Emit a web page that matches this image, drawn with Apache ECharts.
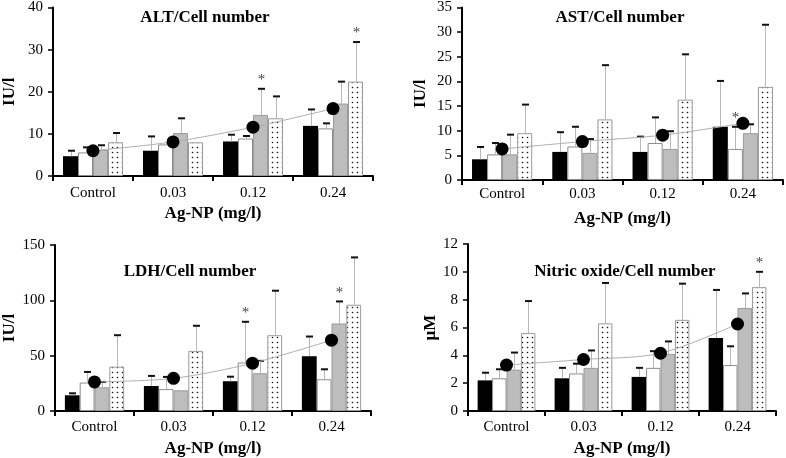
<!DOCTYPE html>
<html><head><meta charset="utf-8">
<script src="https://cdn.jsdelivr.net/npm/echarts@6/dist/echarts.min.js"></script>
<style>html,body{margin:0;padding:0;background:#fff}#c{width:786px;height:458px}</style>
</head><body><div id="c"></div><script>
const categories = ['Control', '0.03', '0.12', '0.24'];

// ALT / Cell number (IU/l)
const altBlack = [4.7, 6.0, 8.2, 11.9];
const altWhite = [5.6, 7.5, 8.9, 11.3];
const altGray = [6.2, 10.2, 14.5, 17.2];
const altDotted = [8.0, 8.0, 13.7, 22.4];
const altBlackErr = [6.0, 9.4, 9.8, 15.8];
const altWhiteErr = [6.8, null, 9.5, 12.5];
const altGrayErr = [7.3, 13.7, 20.7, 22.4];
const altDottedErr = [10.2, null, 18.9, 31.8];
const altDots = [6.0, 8.1, 11.6, 16.0];
const altStars = [[2, 2], [3, 3]];

// AST / Cell number (IU/l)
const astBlack = [4.2, 5.7, 5.7, 10.8];
const astWhite = [5.2, 6.8, 7.5, 6.3];
const astGray = [5.2, 5.5, 6.3, 9.5];
const astDotted = [9.5, 12.3, 16.3, 18.9];
const astBlackErr = [6.7, 9.7, 8.8, 20.1];
const astWhiteErr = [7.5, 10.8, 12.7, 10.8];
const astGrayErr = [9.2, 8.3, 9.9, 11.3];
const astDottedErr = [15.3, 23.3, 25.5, 31.5];
const astDots = [6.3, 7.8, 9.1, 11.5];
const astStars = [[3, 1]];

// LDH / Cell number (IU/l)
const ldhBlack = [14.2, 22.6, 26.9, 49.5];
const ldhWhite = [25.7, 19.8, 43.8, 28.7];
const ldhGray = [21.4, 18.7, 34.1, 79.1];
const ldhDotted = [40.1, 54.3, 68.5, 96.0];
const ldhBlackErr = [16.0, 31.7, 31.0, 67.3];
const ldhWhiteErr = [35.3, 30.8, 80.6, 37.7];
const ldhGrayErr = [26.3, null, 45.3, 99.0];
const ldhDottedErr = [68.5, 77.0, 108.7, 138.8];
const ldhDots = [26.3, 29.5, 43.2, 64.0];
const ldhStars = [[2, 1], [3, 2]];

// Nitric oxide / Cell number (µM)
const noBlack = [2.2, 2.35, 2.45, 5.25];
const noWhite = [2.35, 2.7, 3.1, 3.3];
const noGray = [2.97, 3.1, 4.1, 7.4];
const noDotted = [5.6, 6.3, 6.55, 8.9];
const noBlackErr = [2.75, 3.1, 3.1, 8.7];
const noWhiteErr = [3.0, 3.4, 4.3, 4.65];
const noGrayErr = [4.2, 4.35, 5.0, 8.45];
const noDottedErr = [7.9, 9.2, 9.15, 10.0];
const noDots = [3.3, 3.7, 4.15, 6.25];
const noStars = [[3, 3]];

const yTicksALT = {max: 40, interval: 10};
const yTicksAST = {max: 35, interval: 5};
const yTicksLDH = {max: 150, interval: 50};
const yTicksNO = {max: 12, interval: 2};

const SERIF = "'Liberation Serif','Times New Roman',serif";

function dotPattern() {
  const c = document.createElement('canvas');
  c.width = 5; c.height = 5;
  const g = c.getContext('2d');
  g.fillStyle = '#fff'; g.fillRect(0, 0, 5, 5);
  g.fillStyle = '#111';
  g.beginPath(); g.arc(2.5, 2.5, 0.8, 0, Math.PI * 2); g.fill();
  return c;
}
const pat = dotPattern();

const barStyles = [
  {color: '#000', borderColor: '#000', borderWidth: 0},
  {color: '#fff', borderColor: '#8c8c8c', borderWidth: 1},
  {color: '#bdbdbd', borderColor: '#9a9a9a', borderWidth: 1},
  {color: {image: pat, repeat: 'repeat'}, borderColor: '#9a9a9a', borderWidth: 1}
];

const panels = [
  {title: 'ALT/Cell number', yName: 'IU/l', y: yTicksALT,
   grid: {left: 50, top: 5, width: 323, height: 171}, titlePos: [205, 18],
   means: [altBlack, altWhite, altGray, altDotted],
   errs: [altBlackErr, altWhiteErr, altGrayErr, altDottedErr],
   dots: altDots, stars: altStars, yNameGap: 35, labelMargin: 10, nameGap: 29},
  {title: 'AST/Cell number', yName: 'IU/l', y: yTicksAST,
   grid: {left: 462, top: 5, width: 321, height: 175}, titlePos: [620, 18],
   means: [astBlack, astWhite, astGray, astDotted],
   errs: [astBlackErr, astWhiteErr, astGrayErr, astDottedErr],
   dots: astDots, stars: astStars, yNameGap: 33, labelMargin: 7, nameGap: 30},
  {title: 'LDH/Cell number', yName: 'IU/l', y: yTicksLDH,
   grid: {left: 53, top: 245, width: 318, height: 166}, titlePos: [190, 272],
   means: [ldhBlack, ldhWhite, ldhGray, ldhDotted],
   errs: [ldhBlackErr, ldhWhiteErr, ldhGrayErr, ldhDottedErr],
   dots: ldhDots, stars: ldhStars, yNameGap: 37, labelMargin: 9, nameGap: 29},
  {title: 'Nitric oxide/Cell number', yName: '\u00b5M', y: yTicksNO,
   grid: {left: 468, top: 244, width: 308, height: 167}, titlePos: [625, 272],
   means: [noBlack, noWhite, noGray, noDotted],
   errs: [noBlackErr, noWhiteErr, noGrayErr, noDottedErr],
   dots: noDots, stars: noStars, yNameGap: 29, labelMargin: 9, nameGap: 29}
];

const option = {
  animation: false,
  backgroundColor: '#fff',
  grid: [], xAxis: [], yAxis: [], series: [], graphic: []
};

panels.forEach((p, pi) => {
  option.grid.push(Object.assign({containLabel: false}, p.grid));
  option.xAxis.push({
    type: 'category', gridIndex: pi, data: categories,
    name: 'Ag-NP (mg/l)', nameLocation: 'middle', nameGap: p.nameGap,
    nameTextStyle: {fontFamily: SERIF, fontWeight: 'bold', fontSize: 17, color: '#000'},
    axisLine: {lineStyle: {color: '#000', width: 2}},
    axisTick: {show: true, length: 5, lineStyle: {color: '#000', width: 2}},
    axisLabel: {fontFamily: SERIF, fontSize: 15, color: '#000', margin: p.labelMargin},
    splitLine: {show: false}
  });
  option.yAxis.push({
    type: 'value', gridIndex: pi, min: 0, max: p.y.max, interval: p.y.interval,
    name: p.yName, nameLocation: 'middle', nameGap: p.yNameGap, nameRotate: 90,
    nameTextStyle: {fontFamily: SERIF, fontWeight: 'bold', fontSize: 17, color: '#000'},
    axisLine: {show: true, lineStyle: {color: '#000', width: 2}},
    axisTick: {show: true, length: 5, lineStyle: {color: '#000', width: 1.5}},
    axisLabel: {fontFamily: SERIF, fontSize: 15, color: '#000', margin: 10},
    splitLine: {show: false}
  });
  p.means.forEach((m, si) => {
    option.series.push({
      type: 'bar', xAxisIndex: pi, yAxisIndex: pi, data: m,
      barGap: '0%', barCategoryGap: '25%', itemStyle: barStyles[si], z: 2
    });
  });
  const errData = [];
  p.errs.forEach((e, si) => {
    e.forEach((v, ci) => {
      if (v === null) return;
      const star = p.stars.some(s => s[0] === ci && s[1] === si) ? 1 : 0;
      errData.push([ci, p.means[si][ci], v, si, star]);
    });
  });
  option.series.push({
    type: 'custom', xAxisIndex: pi, yAxisIndex: pi, data: errData, z: 3,
    renderItem: function (params, api) {
      const ci = api.value(0), si = api.value(3);
      const top = api.coord([ci, api.value(1)]);
      const cap = api.coord([ci, api.value(2)]);
      const band = api.size([1, 0])[0];
      const bw = band * 0.75 / 4;
      const x = Math.round(top[0] + (si - 1.5) * bw) + 0.5;
      const children = [
        {type: 'line', shape: {x1: x, y1: top[1], x2: x, y2: cap[1]},
         style: {stroke: '#b8b8b8', lineWidth: 1}},
        {type: 'line', shape: {x1: x - 3.5, y1: cap[1], x2: x + 3.5, y2: cap[1]},
         style: {stroke: '#111', lineWidth: 2}}
      ];
      if (api.value(4)) {
        children.push({type: 'text', x: x, y: cap[1] - 1,
          style: {text: '*', fontFamily: SERIF, fontSize: 15, fill: '#444',
                  align: 'center', verticalAlign: 'bottom'}});
      }
      return {type: 'group', children: children};
    }
  });
  option.series.push({
    type: 'line', xAxisIndex: pi, yAxisIndex: pi, data: p.dots, smooth: 0.3,
    symbol: 'none', lineStyle: {color: '#b0b0b0', width: 1}, z: 4
  });
  option.series.push({
    type: 'scatter', xAxisIndex: pi, yAxisIndex: pi, data: p.dots,
    symbolSize: 13, itemStyle: {color: '#000', opacity: 1}, z: 5
  });
  option.graphic.push({
    type: 'text', x: p.titlePos[0], y: p.titlePos[1],
    style: {text: p.title, fontFamily: SERIF, fontWeight: 'bold', fontSize: 17,
            fill: '#000', align: 'center', verticalAlign: 'middle'}
  });
});

const chart = echarts.init(document.getElementById('c'), null, {renderer: 'canvas'});
chart.setOption(option);
</script></body></html>
